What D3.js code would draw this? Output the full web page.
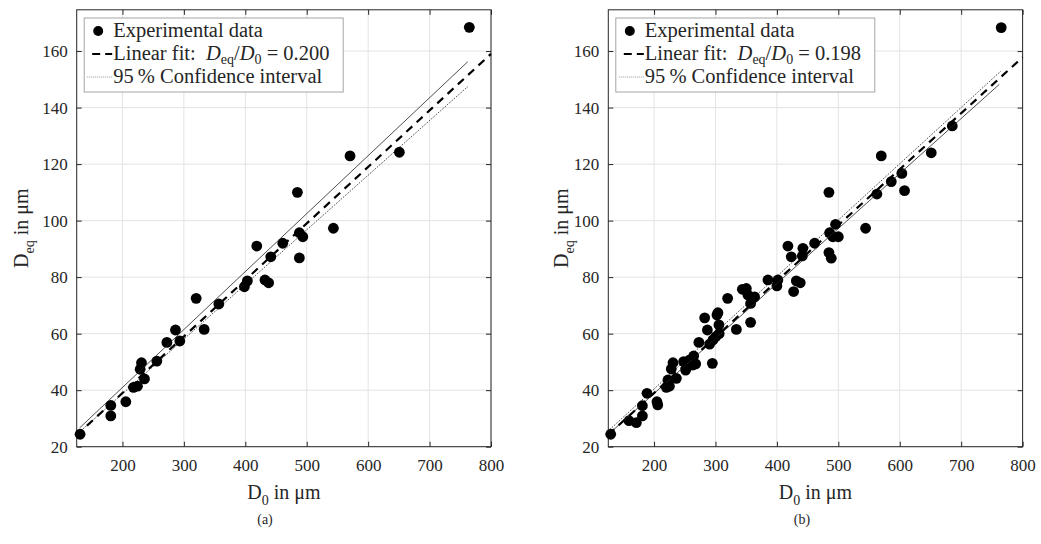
<!DOCTYPE html>
<html lang="en">
<head>
<meta charset="utf-8">
<title>D_eq vs D_0</title>
<script src="https://d3js.org/d3.v7.min.js"></script>
<style>
  body { margin: 0; background: #fff; }
  text { font-family: "Liberation Serif", "Times New Roman", serif; fill: #262626; }
</style>
</head>
<body>
<div id="chart"></div>
<script>
// ---- data ----
const xTicks = [200, 300, 400, 500, 600, 700, 800];
const yTicks = [20, 40, 60, 80, 100, 120, 140, 160];
const xDomain = [125.5, 800];
const yDomain = [20, 174.6];

// panel (a)
const pointsA = [
  [131,24.4],[181,34.6],[181,30.9],[205.5,35.9],[218,41],[224.4,41.4],[228.8,47.4],[231,49.7],
  [235.8,44],[256,50.3],[272.3,56.9],[286.3,61.3],[293.4,57.4],[320,72.5],[333,61.5],[356.9,70.5],
  [398.5,76.6],[403.4,78.7],[432,79],[438,78],[418.7,91],[441.5,87.2],[461,92],[484.8,110],
  [488,95.7],[493.6,94.3],[488,86.8],[543.4,97.3],[570.5,122.9],[650.8,124.2],[764.7,168.4]
];
const fitA = { slope: 0.200, intercept: -1.0, label: "0.200" };
const ciUpperA = [[130, 26.6], [762, 156.2]];
const ciLowerA = [[130, 25.2], [763, 147.6]];

// panel (b)
const pointsB = [
  [129.4,24.4],[159.2,29.2],[171.2,28.5],[181,30.9],[181,34.5],[188.5,38.9],[204.7,35.9],[206,34.8],
  [220,41],[225,41.4],[222.6,43.6],[228,47.5],[230.8,49.7],[236.3,44.2],[248.2,50.1],[251.4,47.1],
  [254,48.3],[258,50.7],[263.3,48.9],[264.5,52.1],[267.7,49.3],[273,56.9],[282.4,65.6],[286.8,61.3],
  [290.5,56.3],[294.9,49.5],[295.9,57.8],[300.3,58.9],[302.4,66.6],[304,67.4],[305.6,63.1],[306,60],
  [319.8,72.5],[334,61.5],[343.7,75.7],[350.2,76],[352.8,73.7],[357.2,70.7],[357.2,64],[363.7,73],
  [385.4,79],[400,76.9],[401.6,79],[427.2,74.9],[431.6,78.7],[438,78],[417.9,91],[423.4,87.2],
  [442.3,90.2],[441.4,87.5],[461.4,92],[484.7,110],[484.7,88.7],[488.5,86.7],[485.8,95.7],[491,94.3],
  [495.5,98.7],[500,94.3],[544.4,97.3],[562.8,109.4],[569.9,122.9],[586.2,113.8],[603.4,116.7],
  [607.8,110.6],[651.3,124],[685.5,133.5],[765.2,168.3]
];
const fitB = { slope: 0.198, intercept: -0.6, label: "0.198" };
const ciUpperB = [[129, 26.3], [765, 153]];
const ciLowerB = [[129, 25.0], [762, 148.2]];

const legendLabels = ["Experimental data", "Linear fit:", "95\u2009% Confidence interval"];

// ---- layout ----
const W = 1041, H = 544;
const plotTop = 9.8, plotBottom = 446.7, plotWidth = 414.3;

const svg = d3.select("#chart").append("svg")
  .attr("width", W).attr("height", H);
svg.append("rect").attr("width", W).attr("height", H).attr("fill", "#fff");

function drawPanel(left, points, fit, ciUp, ciLow, caption, captionX, yLabelX, upperDotted) {
  const x = d3.scaleLinear().domain(xDomain).range([left, left + plotWidth]);
  const y = d3.scaleLinear().domain(yDomain).range([plotBottom, plotTop]);
  const g = svg.append("g");

  // grid
  g.selectAll(".gx").data(xTicks).join("line")
    .attr("x1", d => x(d)).attr("x2", d => x(d))
    .attr("y1", plotTop).attr("y2", plotBottom)
    .attr("stroke", "#e3e3e3").attr("stroke-width", 1);
  g.selectAll(".gy").data(yTicks).join("line")
    .attr("x1", left).attr("x2", left + plotWidth)
    .attr("y1", d => y(d)).attr("y2", d => y(d))
    .attr("stroke", "#e3e3e3").attr("stroke-width", 1);

  // axes (ticks inside, box all round)
  const tk = 5;
  g.append("g").attr("transform", `translate(0,${plotBottom})`)
    .call(d3.axisBottom(x).tickValues(xTicks).tickSize(-tk).tickPadding(12))
    .call(a => a.select(".domain").remove());
  g.append("g").attr("transform", `translate(0,${plotTop})`)
    .call(d3.axisTop(x).tickValues(xTicks).tickSize(-tk).tickFormat(""))
    .call(a => a.select(".domain").remove());
  g.append("g").attr("transform", `translate(${left},0)`)
    .call(d3.axisLeft(y).tickValues(yTicks).tickSize(-tk).tickPadding(9))
    .call(a => a.select(".domain").remove());
  g.append("g").attr("transform", `translate(${left + plotWidth},0)`)
    .call(d3.axisRight(y).tickValues(yTicks).tickSize(-tk).tickFormat(""))
    .call(a => a.select(".domain").remove());
  g.selectAll(".tick line").attr("stroke", "#262626");
  g.selectAll(".tick text")
    .style("font-family", "'Liberation Serif', serif")
    .style("font-size", "17px").attr("fill", "#262626");

  g.append("rect")
    .attr("x", left).attr("y", plotTop)
    .attr("width", plotWidth).attr("height", plotBottom - plotTop)
    .attr("fill", "none").attr("stroke", "#262626").attr("stroke-width", 1);

  // points
  g.selectAll(".pt").data(points).join("circle")
    .attr("cx", d => x(d[0])).attr("cy", d => y(d[1]))
    .attr("r", 5.4).attr("fill", "#000");

  // confidence interval lines
  const line = d3.line().x(d => x(d[0])).y(d => y(d[1]));
  const solidStyle = p => p.attr("stroke", "#222").attr("stroke-width", 0.8);
  const dotStyle = p => p.attr("stroke", "#000").attr("stroke-width", 0.9).attr("stroke-dasharray", "1,1.4");
  const up = g.append("path").datum(ciUp).attr("d", line).attr("fill", "none");
  const low = g.append("path").datum(ciLow).attr("d", line).attr("fill", "none");
  if (upperDotted) { dotStyle(up); solidStyle(low); } else { solidStyle(up); dotStyle(low); }

  // fit line
  const fitPts = xDomain.map(v => [v, fit.slope * v + fit.intercept]);
  g.append("path").datum(fitPts).attr("d", line)
    .attr("fill", "none").attr("stroke", "#000")
    .attr("stroke-width", 2.2).attr("stroke-dasharray", "8,6");

  // legend
  const lx = left + 7.5, ly = 18;
  g.append("rect").attr("x", lx).attr("y", ly).attr("width", 259).attr("height", 74)
    .attr("fill", "#fff").attr("stroke", "#a6a6a6").attr("stroke-width", 1);
  const rows = [31, 54, 77];
  const tx = lx + 29;
  g.append("circle").attr("cx", lx + 14).attr("cy", rows[0]).attr("r", 5).attr("fill", "#000");
  g.append("line").attr("x1", lx + 8).attr("x2", lx + 28).attr("y1", rows[1]).attr("y2", rows[1])
    .attr("stroke", "#000").attr("stroke-width", 2.2).attr("stroke-dasharray", "8,5");
  g.append("line").attr("x1", lx + 3).attr("x2", lx + 28).attr("y1", rows[2]).attr("y2", rows[2])
    .attr("stroke", "#999").attr("stroke-width", 1).attr("stroke-dasharray", "1,1");

  const fs = 20.5;
  g.append("text").attr("x", tx).attr("y", rows[0] + 6).style("font-size", fs + "px").attr("fill", "#000")
    .text(legendLabels[0]);
  const t2 = g.append("text").attr("x", tx).attr("y", rows[1] + 6).style("font-size", fs + "px").attr("fill", "#000");
  t2.append("tspan").text(legendLabels[1] + "\u00a0\u00a0");
  t2.append("tspan").style("font-style", "italic").text("D");
  t2.append("tspan").attr("dy", 4).style("font-size", "14px").text("eq");
  t2.append("tspan").attr("dy", -4).text("/");
  t2.append("tspan").style("font-style", "italic").text("D");
  t2.append("tspan").attr("dy", 4).style("font-size", "14px").text("0");
  t2.append("tspan").attr("dy", -4).text(" = " + fit.label);
  g.append("text").attr("x", tx).attr("y", rows[2] + 6).style("font-size", fs + "px").attr("fill", "#000")
    .text(legendLabels[2]);

  // axis labels
  const xl = g.append("text").attr("x", left + plotWidth / 2).attr("y", 499)
    .attr("text-anchor", "middle").style("font-size", "20px");
  xl.append("tspan").text("D");
  xl.append("tspan").attr("dy", 6).style("font-size", "14px").text("0");
  xl.append("tspan").attr("dy", -6).text(" in \u03bcm");

  const yMid = (plotTop + plotBottom) / 2;
  const yl = g.append("text").attr("transform", `translate(${yLabelX},${yMid}) rotate(-90)`)
    .attr("text-anchor", "middle").style("font-size", "20px");
  yl.append("tspan").text("D");
  yl.append("tspan").attr("dy", 6).style("font-size", "14px").text("eq");
  yl.append("tspan").attr("dy", -6).text(" in \u03bcm");

  g.append("text").attr("x", captionX).attr("y", 524).attr("text-anchor", "middle")
    .style("font-size", "14px").text(caption);
}

drawPanel(76.7, pointsA, fitA, ciUpperA, ciLowerA, "(a)", 265, 28, false);
drawPanel(608.3, pointsB, fitB, ciUpperB, ciLowerB, "(b)", 802, 568, true);
</script>
</body>
</html>
